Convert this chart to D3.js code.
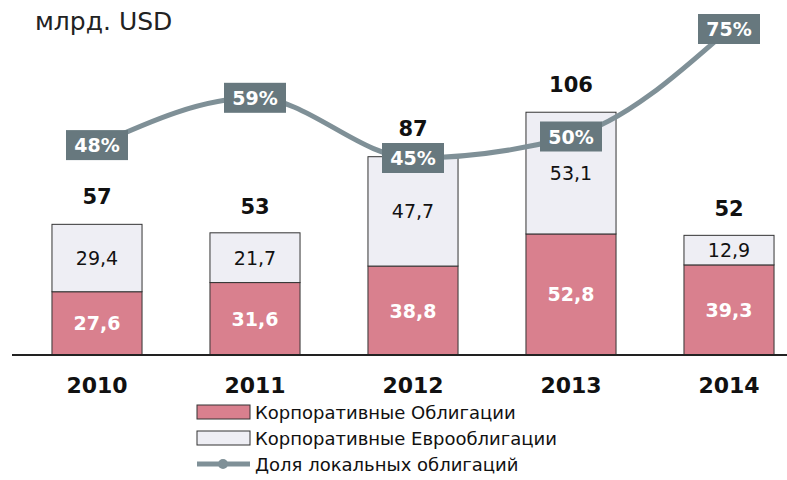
<!DOCTYPE html>
<html><head><meta charset="utf-8">
<script src="https://cdn.jsdelivr.net/npm/d3@7"></script>
<style>body{margin:0;background:#fff}svg{display:block}</style>
</head><body>
<svg id="c" width="787" height="480"></svg>
<script>
const years = ["2010","2011","2012","2013","2014"];
const corpBonds = [27.6, 31.6, 38.8, 52.8, 39.3];
const euroBonds = [29.4, 21.7, 47.7, 53.1, 12.9];
const totals = [57, 53, 87, 106, 52];
const localShare = [48, 59, 45, 50, 75];
const seriesNames = ["Корпоративные Облигации", "Корпоративные Еврооблигации", "Доля локальных облигаций"];
const unitLabel = "млрд. USD";

const fmt = v => String(v).replace(".", ",");
const svg = d3.select("#c");
const base = 355;
const x = d3.scaleBand().domain(years).range([18, 808]).paddingInner(0.43).paddingOuter(0.215);
const y = d3.scaleLinear().domain([0, 106]).range([base, base - 243]);
const yl = d3.scaleLinear().domain([45, 75]).range([158, 29]);
const pink = "#d9808e", light = "#eeeef4", stroke = "#333", lineC = "#7f9097", boxC = "#67787e";
const font = "'DejaVu Sans', Verdana, sans-serif";

svg.append("text").attr("x", 35).attr("y", 30).attr("font-family", font).attr("font-size", 25).attr("fill", "#222").text(unitLabel);

const g = svg.append("g");
years.forEach((yr, i) => {
  const x0 = x(yr), w = x.bandwidth();
  g.append("rect").attr("x", x0).attr("width", w).attr("y", y(corpBonds[i])).attr("height", base - y(corpBonds[i]))
    .attr("fill", pink).attr("stroke", stroke).attr("stroke-width", 1);
  g.append("rect").attr("x", x0).attr("width", w).attr("y", y(corpBonds[i] + euroBonds[i])).attr("height", y(corpBonds[i]) - y(corpBonds[i] + euroBonds[i]))
    .attr("fill", light).attr("stroke", stroke).attr("stroke-width", 1);
  const cx = x0 + w / 2;
  g.append("text").attr("x", cx).attr("y", (y(corpBonds[i]) + base) / 2 + 7).attr("text-anchor", "middle")
    .attr("font-family", font).attr("font-weight", "bold").attr("font-size", 19).attr("fill", "#fff").text(fmt(corpBonds[i]));
  g.append("text").attr("x", cx).attr("y", (y(corpBonds[i]) + y(corpBonds[i] + euroBonds[i])) / 2 + 7).attr("text-anchor", "middle")
    .attr("font-family", font).attr("font-size", 19).attr("fill", "#111").text(fmt(euroBonds[i]));
  g.append("text").attr("x", cx).attr("y", y(totals[i]) - 20).attr("text-anchor", "middle")
    .attr("font-family", font).attr("font-weight", "bold").attr("font-size", 21).attr("fill", "#111").text(totals[i]);
  g.append("text").attr("x", cx).attr("y", 393).attr("text-anchor", "middle")
    .attr("font-family", font).attr("font-weight", "bold").attr("font-size", 22).attr("fill", "#111").text(yr);
});

svg.append("line").attr("x1", 12).attr("x2", 787).attr("y1", base).attr("y2", base).attr("stroke", "#222").attr("stroke-width", 2);

const pts = years.map((yr, i) => [x(yr) + x.bandwidth() / 2, yl(localShare[i])]);
svg.append("path").attr("d", d3.line().curve(d3.curveMonotoneX)(pts)).attr("fill", "none").attr("stroke", lineC).attr("stroke-width", 5);
pts.forEach((p, i) => {
  svg.append("rect").attr("x", p[0] - 31).attr("y", p[1] - 15).attr("width", 62).attr("height", 30).attr("fill", boxC);
  svg.append("text").attr("x", p[0]).attr("y", p[1] + 7).attr("text-anchor", "middle").attr("font-family", font)
    .attr("font-weight", "bold").attr("font-size", 19).attr("fill", "#fff").text(localShare[i] + "%");
});

const lg = svg.append("g").attr("transform", "translate(197,0)");
const rows = [412, 438, 464];
lg.append("rect").attr("x", 0).attr("y", rows[0] - 7).attr("width", 53).attr("height", 14).attr("fill", pink).attr("stroke", stroke);
lg.append("rect").attr("x", 0).attr("y", rows[1] - 7).attr("width", 53).attr("height", 14).attr("fill", light).attr("stroke", stroke);
lg.append("line").attr("x1", 0).attr("x2", 53).attr("y1", rows[2]).attr("y2", rows[2]).attr("stroke", lineC).attr("stroke-width", 5);
lg.append("circle").attr("cx", 26).attr("cy", rows[2]).attr("r", 5).attr("fill", lineC);
seriesNames.forEach((n, i) => {
  lg.append("text").attr("x", 58).attr("y", rows[i] + 7).attr("font-family", font).attr("font-size", 18).attr("fill", "#111").text(n);
});
</script>
</body></html>
